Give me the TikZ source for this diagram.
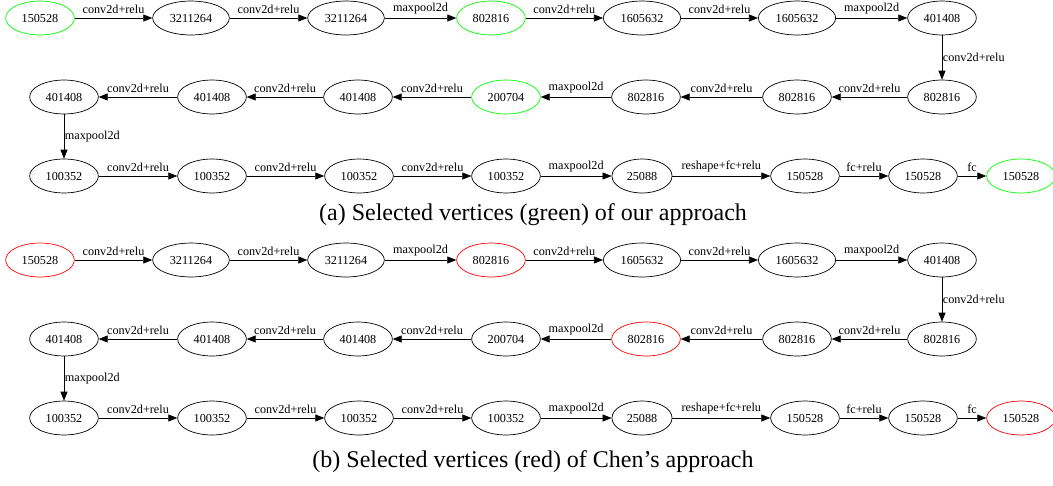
\documentclass[tikz,border=0pt]{standalone}
\usepackage{fontspec}
\setmainfont{Liberation Serif}
\usetikzlibrary{arrows.meta, shapes.geometric}

\begin{document}
\begin{tikzpicture}[x=1pt, y=1pt, font=\fontsize{12.2}{14}\selectfont,
  vtx/.style={ellipse, draw, line width=0.7pt, inner xsep=6pt, inner ysep=8pt,
    text height=8pt, text depth=0pt},
  edge/.style={-{Triangle[length=9pt,width=7pt]}, line width=0.7pt},
  lbl/.style={above=2.5pt, inner sep=1.5pt},
  vlbl/.style={right, inner sep=0.5pt},
  capt/.style={font=\fontsize{24}{28}\selectfont}]
\useasboundingbox (0,0) rectangle (1053,-485);

% one panel per approach, the picked vertices in colour
\foreach \p/\dy/\pickcol/\ha/\hb/\capy/\captext in {
    a/0/green/green/black/-215/{(a) Selected vertices (green) of our approach},
    b/-242/red/black/red/-220/{(b) Selected vertices (red) of Chen’s approach}} {
  \begin{scope}[yshift=\dy]
  % top row, left to right
  \foreach \x/\v/\c [count=\i] in {40/150528/\pickcol, 191/3211264/black,
      346/3211264/black, 491/802816/\pickcol, 642/1605632/black,
      797/1605632/black, 942/401408/black}
    \node[vtx, draw=\c] (\p1-\i) at (\x,-18) {\v};
  % middle row, runs right to left
  \foreach \x/\v/\c [count=\i] in {64/401408/black, 212/401408/black,
      358/401408/black, 506/200704/\ha, 646/802816/\hb,
      797/802816/black, 942/802816/black}
    \node[vtx, draw=\c] (\p2-\i) at (\x,-97) {\v};
  % bottom row
  \foreach \x/\v/\c [count=\i] in {64/100352/black, 212/100352/black,
      359/100352/black, 506/100352/black, 642/25088/black,
      805/150528/black, 923/150528/black, 1021/150528/\pickcol}
    \node[vtx, draw=\c] (\p3-\i) at (\x,-176) {\v};

  \foreach \i/\j/\l in {1/2/conv2d+relu, 2/3/conv2d+relu, 3/4/maxpool2d,
      4/5/conv2d+relu, 5/6/conv2d+relu, 6/7/maxpool2d}
    \draw[edge] (\p1-\i) -- node[lbl] {\l} (\p1-\j);
  \draw[edge] (\p1-7) -- node[vlbl] {conv2d+relu} (\p2-7);
  \foreach \i/\j/\l in {7/6/conv2d+relu, 6/5/conv2d+relu, 5/4/maxpool2d,
      4/3/conv2d+relu, 3/2/conv2d+relu, 2/1/conv2d+relu}
    \draw[edge] (\p2-\i) -- node[lbl] {\l} (\p2-\j);
  \draw[edge] (\p2-1) -- node[vlbl] {maxpool2d} (\p3-1);
  \foreach \i/\j/\l in {1/2/conv2d+relu, 2/3/conv2d+relu, 3/4/conv2d+relu,
      4/5/maxpool2d, 5/6/reshape+fc+relu, 6/7/fc+relu, 7/8/fc}
    \draw[edge] (\p3-\i) -- node[lbl] {\l} (\p3-\j);

  \node[capt] (cap\p) at (533,\capy) {\captext};
  \end{scope}
}
\end{tikzpicture}
\end{document}
